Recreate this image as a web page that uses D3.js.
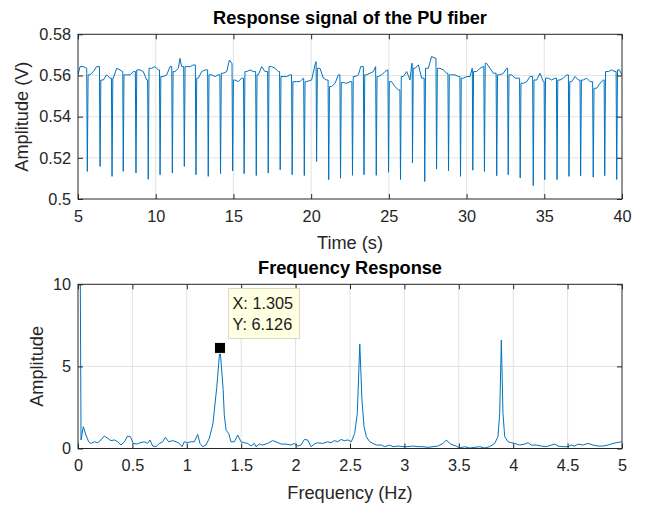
<!DOCTYPE html>
<html><head><meta charset="utf-8">
<script src="https://cdn.jsdelivr.net/npm/d3@7"></script>
<style>body{margin:0;background:#fff}svg{display:block}text{font-family:"Liberation Sans",Arial,Helvetica,sans-serif}</style>
</head><body><svg id="c" width="646" height="506"></svg>
<script>
// ---- Top plot: time signal (baseline samples) ----
const baseT = [5.00,5.13,5.34,5.56,5.77,5.99,6.20,6.36,6.63,6.84,7.06,7.27,7.49,7.70,7.88,8.13,8.35,8.56,8.99,9.20,9.42,9.74,9.95,10.17,10.49,10.71,10.92,11.24,11.46,11.56,11.67,11.99,12.21,12.42,12.74,12.96,13.17,13.60,13.82,14.03,14.35,14.57,14.74,14.89,15.10,15.32,15.53,15.85,16.07,16.28,16.60,16.82,17.03,17.46,17.68,17.89,18.21,18.43,18.64,19.07,19.28,19.50,19.71,20.03,20.25,20.32,20.57,20.78,21.00,21.32,21.54,21.75,22.07,22.29,22.50,22.82,23.04,23.19,23.57,23.79,24.00,24.15,24.32,24.54,24.75,24.93,25.18,25.39,25.61,25.93,26.15,26.36,26.50,26.68,26.90,27.11,27.54,27.75,27.97,28.29,28.50,28.72,29.04,29.26,29.47,29.79,30.01,30.22,30.37,30.65,30.86,31.08,31.29,31.51,31.72,32.15,32.37,32.58,32.90,33.12,33.33,33.65,33.87,34.08,34.51,34.72,34.94,35.26,35.47,35.69,36.01,36.23,36.44,36.76,36.98,37.19,37.51,37.73,37.94,38.37,38.58,38.80,39.12,39.33,39.55,39.83,40.00];
const baseV = [0.5603,0.5643,0.5643,0.5635,0.5603,0.5619,0.5643,0.5643,0.5578,0.5603,0.5587,0.5587,0.5635,0.5627,0.5619,0.5603,0.5603,0.5619,0.5627,0.5619,0.5578,0.5635,0.5643,0.5627,0.5595,0.5603,0.5643,0.5619,0.5635,0.5683,0.5643,0.5643,0.5643,0.5651,0.5587,0.5619,0.5627,0.5603,0.5595,0.5603,0.5611,0.5619,0.5675,0.5659,0.5578,0.5570,0.5587,0.5619,0.5627,0.5619,0.5603,0.5643,0.5619,0.5643,0.5635,0.5619,0.5595,0.5595,0.5603,0.5570,0.5570,0.5587,0.5570,0.5578,0.5651,0.5667,0.5635,0.5587,0.5578,0.5546,0.5562,0.5603,0.5566,0.5562,0.5570,0.5595,0.5603,0.5643,0.5603,0.5611,0.5619,0.5643,0.5595,0.5603,0.5619,0.5627,0.5570,0.5546,0.5530,0.5595,0.5619,0.5578,0.5659,0.5635,0.5651,0.5587,0.5635,0.5692,0.5684,0.5635,0.5627,0.5611,0.5603,0.5603,0.5595,0.5587,0.5595,0.5595,0.5635,0.5619,0.5635,0.5643,0.5659,0.5635,0.5611,0.5603,0.5611,0.5635,0.5603,0.5587,0.5587,0.5562,0.5570,0.5595,0.5578,0.5611,0.5570,0.5587,0.5578,0.5587,0.5578,0.5587,0.5603,0.5570,0.5595,0.5578,0.5578,0.5587,0.5570,0.5538,0.5562,0.5578,0.5619,0.5627,0.5619,0.5627,0.5603];
// spikes (time of minimum, minimum value)
const spikeT = [5.60,6.42,7.19,7.91,8.73,9.52,10.28,11.07,11.84,12.59,13.38,14.17,14.95,15.69,16.47,17.24,18.01,18.78,19.56,20.35,21.13,21.89,22.66,23.40,24.19,24.98,25.75,26.52,27.31,28.07,28.84,29.61,30.40,31.15,31.94,32.68,33.45,34.29,35.03,35.82,36.59,37.34,38.15,38.89,39.66];
const spikeV = [0.5134,0.5158,0.5110,0.5134,0.5126,0.5096,0.5118,0.5126,0.5158,0.5118,0.5110,0.5123,0.5137,0.5123,0.5114,0.5126,0.5142,0.5118,0.5114,0.5182,0.5094,0.5101,0.5115,0.5118,0.5115,0.5130,0.5095,0.5175,0.5085,0.5145,0.5137,0.5110,0.5140,0.5134,0.5113,0.5118,0.5102,0.5065,0.5094,0.5094,0.5110,0.5113,0.5106,0.5113,0.5095];
const timeTicks = [5,10,15,20,25,30,35,40];
const voltTicks = [0.5,0.52,0.54,0.56,0.58];

// ---- Bottom plot: frequency response ----
const freqHz = [0,0.028,0.049,0.073,0.098,0.119,0.150,0.181,0.211,0.242,0.273,0.303,0.334,0.365,0.395,0.426,0.456,0.481,0.508,0.539,0.570,0.610,0.640,0.662,0.686,0.717,0.748,0.778,0.803,0.833,0.870,0.901,0.931,0.956,0.977,1.008,1.039,1.069,1.100,1.121,1.146,1.176,1.207,1.240,1.275,1.305,1.334,1.345,1.362,1.385,1.406,1.437,1.468,1.498,1.529,1.560,1.590,1.621,1.636,1.667,1.697,1.743,1.789,1.820,1.866,1.912,1.958,1.988,2.019,2.050,2.080,2.111,2.142,2.172,2.203,2.249,2.295,2.325,2.356,2.387,2.417,2.448,2.482,2.512,2.543,2.567,2.590,2.610,2.629,2.650,2.681,2.711,2.742,2.788,2.819,2.865,2.895,2.941,2.987,3.033,3.079,3.125,3.171,3.217,3.263,3.309,3.355,3.386,3.416,3.447,3.477,3.508,3.554,3.600,3.646,3.692,3.738,3.784,3.830,3.860,3.876,3.891,3.906,3.922,3.952,3.983,4.014,4.060,4.105,4.136,4.167,4.213,4.259,4.305,4.351,4.381,4.412,4.458,4.504,4.534,4.565,4.596,4.642,4.688,4.734,4.780,4.826,4.872,4.918,4.948,4.994];
const ampl = [40,0.52,1.33,0.82,0.41,0.31,0.41,0.35,0.52,0.76,0.62,0.48,0.52,0.41,0.21,0.41,0.76,0.72,0.31,0.27,0.35,0.41,0.31,0.52,0.15,0.11,0.31,0.41,0.68,0.41,0.48,0.41,0.31,0.11,0.41,0.35,0.41,0.41,0.86,0.31,0.11,0.21,0.62,1.5,3.7,6.126,3.6,2.0,1.1,0.92,0.41,0.41,0.82,0.41,0.35,0.31,0.15,0.31,0.11,0.27,0.21,0.31,0.48,0.41,0.27,0.27,0.21,0.31,0.15,0.21,0.55,0.52,0.11,0.27,0.35,0.31,0.41,0.35,0.48,0.41,0.55,0.48,0.52,0.41,0.92,2.14,6.36,2.95,1.33,0.72,0.41,0.31,0.21,0.21,0.11,0.21,0.11,0.15,0.11,0.11,0.15,0.11,0.11,0.07,0.11,0.15,0.31,0.52,0.31,0.21,0.15,0.03,0.11,0.03,0.07,0.11,0.03,0.11,0.31,0.72,2.14,6.61,2.14,0.72,0.41,0.35,0.31,0.21,0.27,0.35,0.21,0.21,0.15,0.11,0.21,0.27,0.15,0.11,0.11,0.21,0.15,0.27,0.21,0.31,0.21,0.15,0.15,0.21,0.31,0.35,0.41];
const freqTicks = [0,0.5,1,1.5,2,2.5,3,3.5,4,4.5,5];
const ampTicks = [0,5,10];
const tipX = 1.305, tipY = 6.126;

const svg = d3.select("#c");
const L = 78, R = 622;
const AX = "#262626", GRID = "#e3e3e3", BLUE = "#0072bd";
const TICKFS = "16.3px", LABFS = "18.2px";

function panel(o){
  const g = svg.append("g");
  const x = d3.scaleLinear().domain(o.xd).range([L,R]);
  const y = d3.scaleLinear().domain(o.yd).range([o.bot,o.top]);
  const cid = "clip"+o.id;
  svg.append("clipPath").attr("id",cid).append("rect").attr("x",L).attr("y",o.top).attr("width",R-L).attr("height",o.bot-o.top);
  g.selectAll(".gx").data(o.xt.slice(1,-1)).join("line").attr("x1",d=>x(d)).attr("x2",d=>x(d)).attr("y1",o.top).attr("y2",o.bot).attr("stroke",GRID).attr("stroke-width",1);
  g.selectAll(".gy").data(o.yt.slice(1,-1)).join("line").attr("y1",d=>y(d)).attr("y2",d=>y(d)).attr("x1",L).attr("x2",R).attr("stroke",GRID).attr("stroke-width",1);
  g.append("path").datum(o.pts).attr("clip-path",`url(#${cid})`).attr("fill","none").attr("stroke",BLUE).attr("stroke-width",1).attr("stroke-linejoin","round")
    .attr("d",d3.line().x(d=>x(d[0])).y(d=>y(d[1])));
  const tl = 5;
  const ax = g.append("g").attr("transform",`translate(0,${o.bot})`).call(d3.axisBottom(x).tickValues(o.xt).tickFormat(o.xf).tickSizeInner(-tl).tickSizeOuter(0).tickPadding(11));
  const ay = g.append("g").attr("transform",`translate(${L},0)`).call(d3.axisLeft(y).tickValues(o.yt).tickFormat(o.yf).tickSizeInner(-tl).tickSizeOuter(0).tickPadding(7));
  const at = g.append("g").attr("transform",`translate(0,${o.top})`).call(d3.axisTop(x).tickValues(o.xt).tickFormat("").tickSizeInner(-tl).tickSizeOuter(0));
  const ar = g.append("g").attr("transform",`translate(${R},0)`).call(d3.axisRight(y).tickValues(o.yt).tickFormat("").tickSizeInner(-tl).tickSizeOuter(0));
  [ax,ay,at,ar].forEach(a=>{a.select(".domain").remove();a.selectAll("line").attr("stroke",AX);a.selectAll("text").attr("fill",AX).style("font-size",TICKFS).style("font-family",'"Liberation Sans",Arial,sans-serif');});
  g.append("rect").attr("x",L).attr("y",o.top).attr("width",R-L).attr("height",o.bot-o.top).attr("fill","none").attr("stroke",AX).attr("stroke-width",1);
  g.append("text").attr("x",(L+R)/2).attr("y",o.top-10).attr("text-anchor","middle").attr("fill","#000").style("font-size",LABFS).style("font-weight","bold").text(o.title);
  g.append("text").attr("x",(L+R)/2).attr("y",o.bot+50).attr("text-anchor","middle").attr("fill",AX).style("font-size",LABFS).text(o.xlab);
  g.append("text").attr("transform",`translate(${o.ylx},${(o.top+o.bot)/2}) rotate(-90)`).attr("text-anchor","middle").attr("fill",AX).style("font-size",LABFS).text(o.ylab);
  return {x,y,g};
}

// build signal points: baseline samples plus spikes
const sig = baseT.map((t,i)=>[t,baseV[i]]);
spikeT.forEach((ts,k)=>{
  let prev = baseV[0], next = baseV[baseV.length-1];
  for(let i=0;i<baseT.length;i++){ if(baseT[i]<ts) prev = baseV[i]; else { next = baseV[i]; break; } }
  sig.push([ts-0.04,prev],[ts,spikeV[k]],[ts+0.05,next]);
});
sig.sort((a,b)=>a[0]-b[0]);

panel({id:1,xd:[5,40],yd:[0.5,0.58],top:34.3,bot:199,xt:timeTicks,yt:voltTicks,xf:d3.format("d"),yf:d=>d===0.5?"0.5":d3.format(".2f")(d),
  pts:sig,title:"Response signal of the PU fiber",xlab:"Time (s)",ylab:"Amplitude (V)",ylx:28});

const p2 = panel({id:2,xd:[0,5],yd:[0,10],top:284.3,bot:448.5,xt:freqTicks,yt:ampTicks,xf:d=>String(d),yf:d=>String(d),
  pts:freqHz.map((f,i)=>[f,ampl[i]]),title:"Frequency Response",xlab:"Frequency (Hz)",ylab:"Amplitude",ylx:43});

// data tip
const mx = p2.x(tipX), my = p2.y(tipY);
p2.g.append("rect").attr("x",mx-5.5).attr("y",my-5.5).attr("width",11).attr("height",11).attr("fill","#000").attr("stroke","#fffff0").attr("stroke-width",1);
const bx = mx+8.5, by = 288.5;
p2.g.append("rect").attr("x",bx).attr("y",by).attr("width",71).attr("height",50).attr("fill","#ffffe1").attr("stroke","#d9d9c8").attr("stroke-width",1);
p2.g.append("text").attr("x",bx+4).attr("y",by+20).attr("fill","#1a1a1a").style("font-size",TICKFS).text("X: "+tipX.toFixed(3));
p2.g.append("text").attr("x",bx+4).attr("y",by+41).attr("fill","#1a1a1a").style("font-size",TICKFS).text("Y: "+tipY.toFixed(3));
</script></body></html>
